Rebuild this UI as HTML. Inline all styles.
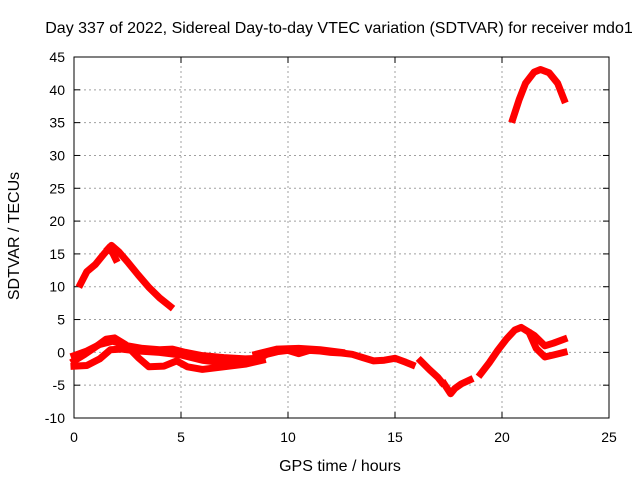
<!DOCTYPE html>
<html><head><meta charset="utf-8"><style>
body{margin:0;background:#fff}
svg{display:block;font-family:"Liberation Sans",sans-serif;font-size:14px}
.big{font-size:16px}
</style></head><body>
<svg id="chart" width="640" height="480">
<rect width="640" height="480" fill="#fff"/>
<text class="big" x="339" y="33" text-anchor="middle">Day 337 of 2022, Sidereal Day-to-day VTEC variation (SDTVAR) for receiver mdo1</text>
<g id="grid"></g>
<g id="axes"></g>
<g id="series"></g>
<text class="big" x="340" y="471" text-anchor="middle">GPS time / hours</text>
<text class="big" transform="translate(19,236) rotate(-90)" text-anchor="middle">SDTVAR / TECUs</text>
</svg>
<script>
const xTicks=[0,5,10,15,20,25];
const yTicks=[-10,-5,0,5,10,15,20,25,30,35,40,45];
const trackA=[[0.3,10.4],[0.6,12.3],[1.0,13.4],[1.4,15.0],[1.75,16.3],[2.1,15.3],[2.5,13.8],[3.0,11.8],[3.5,9.9],[4.0,8.3],[4.5,7.0]];
const trackA2=[[1.6,15.8],[1.8,15.2],[1.95,14.2]];
const trackB=[[20.5,35.5],[20.8,38.5],[21.1,41.0],[21.5,42.7],[21.8,43.1],[22.2,42.6],[22.6,41.0],[22.9,38.5]];
const trackC=[[0.0,-1.3],[0.5,-0.3],[1.0,0.8],[1.5,2.0],[1.9,2.2],[2.4,1.2],[3.0,-0.8],[3.5,-2.2],[4.2,-2.1],[4.8,-1.3],[5.3,-2.2],[6.0,-2.6],[7.0,-2.2],[8.0,-1.8],[8.8,-1.2]];
const trackD=[[0.0,-0.5],[0.6,0.2],[1.2,1.2],[1.8,1.7],[2.5,1.0],[3.2,0.6],[4.0,0.4],[4.6,0.5],[5.2,0.0],[6.0,-0.5],[7.0,-0.8],[8.0,-1.0],[8.7,-0.9]];
const trackE=[[0.0,-2.1],[0.6,-2.0],[1.2,-1.0],[1.7,0.4],[2.2,0.5],[3.0,0.2],[4.0,0.0],[5.0,-0.4],[6.0,-1.2],[7.0,-1.6],[8.0,-1.5]];
const trackF=[[8.5,-1.2],[9.0,-0.3],[9.5,0.1],[10.0,0.3],[10.5,-0.2],[11.0,0.3],[11.5,0.2],[12.0,0.0],[12.5,-0.1],[13.0,-0.3],[13.5,-0.8],[14.0,-1.3],[14.5,-1.2],[15.0,-0.9],[15.5,-1.5],[15.8,-1.9]];
const trackF2=[[8.5,-0.3],[9.5,0.5],[10.5,0.6],[11.5,0.4],[12.5,0.0]];
const trackG=[[16.2,-1.3],[16.6,-2.6],[17.0,-3.8],[17.2,-4.6]];
const trackH=[[17.3,-4.8],[17.6,-6.3],[17.8,-5.5],[18.1,-4.8],[18.5,-4.2]];
const trackI=[[19.0,-3.3],[19.4,-1.6],[19.8,0.3],[20.2,2.0],[20.6,3.4],[20.9,3.8],[21.2,3.2],[21.5,2.6],[22.0,1.0],[22.4,1.4],[22.9,2.0]];
const trackI2=[[21.3,2.8],[21.6,0.6],[22.0,-0.7],[22.4,-0.4],[22.9,0.0]];
const tracks=[trackA,trackA2,trackB,trackC,trackD,trackE,trackF,trackF2,trackG,trackH,trackI,trackI2];

const X0=74,X1=609,Y0=418,Y1=57;
const sx=h=>X0+(h-0)/(25-0)*(X1-X0);
const sy=v=>Y0-(v+10)/(45+10)*(Y0-Y1);
const NS='http://www.w3.org/2000/svg';
const grid=document.getElementById('grid'),axes=document.getElementById('axes'),ser=document.getElementById('series');
function mk(tag,attrs,parent){const e=document.createElementNS(NS,tag);for(const k in attrs)e.setAttribute(k,attrs[k]);parent.appendChild(e);return e;}
xTicks.forEach(t=>{
  const x=sx(t);
  if(t>0&&t<25){const g=mk('line',{x1:x,x2:x,y1:Y0,y2:Y1,stroke:'#a0a0a0','stroke-dasharray':'2,3'},grid);
  
  }
  mk('line',{x1:x,x2:x,y1:Y0,y2:Y0-6,stroke:'#000'},axes);
  mk('line',{x1:x,x2:x,y1:Y1,y2:Y1+6,stroke:'#000'},axes);
  const tx=mk('text',{x:x,y:Y0+24,'text-anchor':'middle'},axes);tx.textContent=t;
  
  
});
yTicks.forEach(t=>{
  const y=sy(t);
  if(t>-10&&t<45){const g=mk('line',{x1:X0,x2:X1,y1:y,y2:y,stroke:'#a0a0a0','stroke-dasharray':'2,3'},grid);
  
  }
  mk('line',{x1:X0,x2:X0+6,y1:y,y2:y,stroke:'#000'},axes);
  mk('line',{x1:X1,x2:X1-6,y1:y,y2:y,stroke:'#000'},axes);
  const tx=mk('text',{x:X0-9,y:y+5,'text-anchor':'end'},axes);tx.textContent=t;
  
  
});
mk('rect',{x:X0,y:Y1,width:X1-X0,height:Y0-Y1,fill:'none',stroke:'#000'},axes);
tracks.forEach(tr=>{
  const p=mk('polyline',{points:tr.map(d=>sx(d[0])+','+sy(d[1])).join(' '),fill:'none',stroke:'#f00','stroke-width':7,'stroke-linejoin':'round','stroke-linecap':'square'},ser);
  
  
});
</script>
</body></html>
